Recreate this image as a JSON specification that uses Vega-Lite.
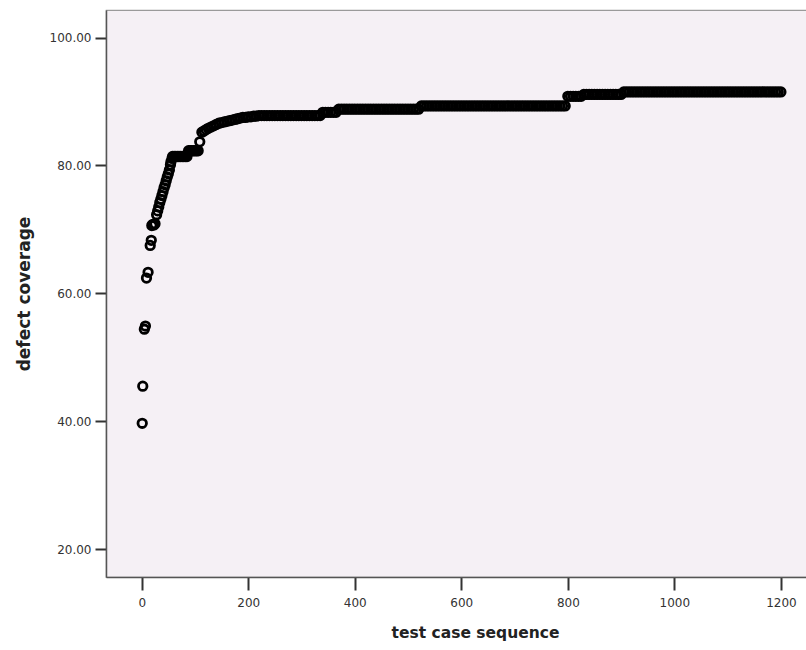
{
  "$schema": "https://vega.github.io/schema/vega-lite/v6.json",
  "width": 701,
  "height": 567,
  "autosize": "none",
  "padding": {"left": 106, "top": 10, "right": 0, "bottom": 73},
  "background": "white",
  "config": {
    "view": {"fill": "#F5F0F5", "stroke": "#9a9a9a", "strokeWidth": 1.2}
  },
  "data": {"values": [
    {"seq":1,"cov":39.7},{"seq":2,"cov":45.5},{"seq":5,"cov":54.4},{"seq":7,"cov":54.9},{"seq":9,"cov":62.4},{"seq":12,"cov":63.3},{"seq":16,"cov":67.5},{"seq":18,"cov":68.3},{"seq":19,"cov":70.6},{"seq":21,"cov":70.8},{"seq":23,"cov":70.7},{"seq":25,"cov":70.9},{"seq":28,"cov":72.3},{"seq":30,"cov":72.9},{"seq":32,"cov":73.5},{"seq":34,"cov":74.2},{"seq":36,"cov":74.7},{"seq":38,"cov":75.3},{"seq":40,"cov":75.9},{"seq":42,"cov":76.5},{"seq":44,"cov":77.0},{"seq":46,"cov":77.6},{"seq":48,"cov":78.2},{"seq":50,"cov":78.7},{"seq":52,"cov":79.3},{"seq":54,"cov":80.1},{"seq":55,"cov":80.6},{"seq":57,"cov":81.1},
    {"seq":58,"cov":81.4},{"seq":61,"cov":81.4},{"seq":64,"cov":81.4},{"seq":67,"cov":81.4},{"seq":70,"cov":81.4},{"seq":73,"cov":81.4},{"seq":76,"cov":81.4},{"seq":79,"cov":81.4},{"seq":82,"cov":81.4},{"seq":85,"cov":81.4},
    {"seq":88,"cov":82.3},{"seq":91,"cov":82.3},{"seq":94,"cov":82.3},{"seq":97,"cov":82.3},{"seq":100,"cov":82.3},{"seq":103,"cov":82.3},{"seq":106,"cov":82.3},
    {"seq":109,"cov":83.7},
    {"seq":113,"cov":85.2},{"seq":117,"cov":85.4},{"seq":121,"cov":85.6},{"seq":125,"cov":85.8},{"seq":130,"cov":86.0},{"seq":135,"cov":86.2},{"seq":140,"cov":86.4},{"seq":145,"cov":86.6},{"seq":150,"cov":86.7},{"seq":155,"cov":86.8},{"seq":160,"cov":86.9},{"seq":165,"cov":87.0},{"seq":170,"cov":87.1},{"seq":175,"cov":87.2},{"seq":180,"cov":87.3},{"seq":185,"cov":87.4},{"seq":190,"cov":87.5},{"seq":195,"cov":87.5},{"seq":200,"cov":87.6},{"seq":205,"cov":87.6},{"seq":210,"cov":87.7},{"seq":215,"cov":87.7},
    {"seq":220,"cov":87.8},{"seq":225,"cov":87.8},{"seq":230,"cov":87.8},{"seq":235,"cov":87.8},{"seq":240,"cov":87.8},{"seq":245,"cov":87.8},{"seq":250,"cov":87.8},{"seq":255,"cov":87.8},{"seq":260,"cov":87.8},{"seq":265,"cov":87.8},{"seq":270,"cov":87.8},{"seq":275,"cov":87.8},{"seq":280,"cov":87.8},{"seq":285,"cov":87.8},{"seq":290,"cov":87.8},{"seq":295,"cov":87.8},{"seq":300,"cov":87.8},{"seq":305,"cov":87.8},{"seq":310,"cov":87.8},{"seq":315,"cov":87.8},{"seq":320,"cov":87.8},{"seq":325,"cov":87.8},{"seq":330,"cov":87.8},{"seq":335,"cov":87.8},
    {"seq":340,"cov":88.3},{"seq":345,"cov":88.3},{"seq":350,"cov":88.3},{"seq":355,"cov":88.3},{"seq":360,"cov":88.3},{"seq":365,"cov":88.3},
    {"seq":370,"cov":88.8},{"seq":375,"cov":88.8},{"seq":380,"cov":88.8},{"seq":385,"cov":88.8},{"seq":390,"cov":88.8},{"seq":395,"cov":88.8},{"seq":400,"cov":88.8},{"seq":405,"cov":88.8},{"seq":410,"cov":88.8},{"seq":415,"cov":88.8},{"seq":420,"cov":88.8},{"seq":425,"cov":88.8},{"seq":430,"cov":88.8},{"seq":435,"cov":88.8},{"seq":440,"cov":88.8},{"seq":445,"cov":88.8},{"seq":450,"cov":88.8},{"seq":455,"cov":88.8},{"seq":460,"cov":88.8},{"seq":465,"cov":88.8},{"seq":470,"cov":88.8},{"seq":475,"cov":88.8},{"seq":480,"cov":88.8},{"seq":485,"cov":88.8},{"seq":490,"cov":88.8},{"seq":495,"cov":88.8},{"seq":500,"cov":88.8},{"seq":505,"cov":88.8},{"seq":510,"cov":88.8},{"seq":515,"cov":88.8},{"seq":520,"cov":88.8},
    {"seq":525,"cov":89.3},{"seq":530,"cov":89.3},{"seq":535,"cov":89.3},{"seq":540,"cov":89.3},{"seq":545,"cov":89.3},{"seq":550,"cov":89.3},{"seq":555,"cov":89.3},{"seq":560,"cov":89.3},{"seq":565,"cov":89.3},{"seq":570,"cov":89.3},{"seq":575,"cov":89.3},{"seq":580,"cov":89.3},{"seq":585,"cov":89.3},{"seq":590,"cov":89.3},{"seq":595,"cov":89.3},{"seq":600,"cov":89.3},{"seq":605,"cov":89.3},{"seq":610,"cov":89.3},{"seq":615,"cov":89.3},{"seq":620,"cov":89.3},{"seq":625,"cov":89.3},{"seq":630,"cov":89.3},{"seq":635,"cov":89.3},{"seq":640,"cov":89.3},{"seq":645,"cov":89.3},{"seq":650,"cov":89.3},{"seq":655,"cov":89.3},{"seq":660,"cov":89.3},{"seq":665,"cov":89.3},{"seq":670,"cov":89.3},{"seq":675,"cov":89.3},{"seq":680,"cov":89.3},{"seq":685,"cov":89.3},{"seq":690,"cov":89.3},{"seq":695,"cov":89.3},{"seq":700,"cov":89.3},{"seq":705,"cov":89.3},{"seq":710,"cov":89.3},{"seq":715,"cov":89.3},{"seq":720,"cov":89.3},{"seq":725,"cov":89.3},{"seq":730,"cov":89.3},{"seq":735,"cov":89.3},{"seq":740,"cov":89.3},{"seq":745,"cov":89.3},{"seq":750,"cov":89.3},{"seq":755,"cov":89.3},{"seq":760,"cov":89.3},{"seq":765,"cov":89.3},{"seq":770,"cov":89.3},{"seq":775,"cov":89.3},{"seq":780,"cov":89.3},{"seq":785,"cov":89.3},{"seq":790,"cov":89.3},{"seq":795,"cov":89.3},
    {"seq":800,"cov":90.8},{"seq":805,"cov":90.8},{"seq":810,"cov":90.8},{"seq":815,"cov":90.8},{"seq":820,"cov":90.8},{"seq":825,"cov":90.8},
    {"seq":830,"cov":91.1},{"seq":835,"cov":91.1},{"seq":840,"cov":91.1},{"seq":845,"cov":91.1},{"seq":850,"cov":91.1},{"seq":855,"cov":91.1},{"seq":860,"cov":91.1},{"seq":865,"cov":91.1},{"seq":870,"cov":91.1},{"seq":875,"cov":91.1},{"seq":880,"cov":91.1},{"seq":885,"cov":91.1},{"seq":890,"cov":91.1},{"seq":895,"cov":91.1},{"seq":900,"cov":91.1},
    {"seq":905,"cov":91.5},{"seq":910,"cov":91.5},{"seq":915,"cov":91.5},{"seq":920,"cov":91.5},{"seq":925,"cov":91.5},{"seq":930,"cov":91.5},{"seq":935,"cov":91.5},{"seq":940,"cov":91.5},{"seq":945,"cov":91.5},{"seq":950,"cov":91.5},{"seq":955,"cov":91.5},{"seq":960,"cov":91.5},{"seq":965,"cov":91.5},{"seq":970,"cov":91.5},{"seq":975,"cov":91.5},{"seq":980,"cov":91.5},{"seq":985,"cov":91.5},{"seq":990,"cov":91.5},{"seq":995,"cov":91.5},{"seq":1000,"cov":91.5},{"seq":1005,"cov":91.5},{"seq":1010,"cov":91.5},{"seq":1015,"cov":91.5},{"seq":1020,"cov":91.5},{"seq":1025,"cov":91.5},{"seq":1030,"cov":91.5},{"seq":1035,"cov":91.5},{"seq":1040,"cov":91.5},{"seq":1045,"cov":91.5},{"seq":1050,"cov":91.5},{"seq":1055,"cov":91.5},{"seq":1060,"cov":91.5},{"seq":1065,"cov":91.5},{"seq":1070,"cov":91.5},{"seq":1075,"cov":91.5},{"seq":1080,"cov":91.5},{"seq":1085,"cov":91.5},{"seq":1090,"cov":91.5},{"seq":1095,"cov":91.5},{"seq":1100,"cov":91.5},{"seq":1105,"cov":91.5},{"seq":1110,"cov":91.5},{"seq":1115,"cov":91.5},{"seq":1120,"cov":91.5},{"seq":1125,"cov":91.5},{"seq":1130,"cov":91.5},{"seq":1135,"cov":91.5},{"seq":1140,"cov":91.5},{"seq":1145,"cov":91.5},{"seq":1150,"cov":91.5},{"seq":1155,"cov":91.5},{"seq":1160,"cov":91.5},{"seq":1165,"cov":91.5},{"seq":1170,"cov":91.5},{"seq":1175,"cov":91.5},{"seq":1180,"cov":91.5},{"seq":1185,"cov":91.5},{"seq":1190,"cov":91.5},{"seq":1195,"cov":91.5},{"seq":1200,"cov":91.5}
  ]},
  "mark": {"type": "point", "shape": "circle", "filled": false, "stroke": "black", "strokeWidth": 2.8, "size": 72, "opacity": 1},
  "encoding": {
    "x": {
      "field": "seq", "type": "quantitative",
      "scale": {"domain": [-67, 1249], "nice": false, "zero": false},
      "axis": {
        "title": "test case sequence", "values": [0, 200, 400, 600, 800, 1000, 1200], "format": "d",
        "grid": false, "domainColor": "#555", "domainWidth": 1.5,
        "tickColor": "#333", "tickWidth": 2, "tickSize": 13,
        "labelFont": "DejaVu Sans", "labelFontSize": 12, "labelColor": "#333", "labelPadding": 7,
        "titleFont": "DejaVu Sans", "titleFontSize": 15.5, "titleFontWeight": "bold", "titleColor": "#222", "titlePadding": 17, "titleX": 369
      }
    },
    "y": {
      "field": "cov", "type": "quantitative",
      "scale": {"domain": [15.67, 104.3], "nice": false, "zero": false},
      "axis": {
        "title": "defect coverage", "values": [20, 40, 60, 80, 100], "format": ".2f",
        "grid": false, "domainColor": "#555", "domainWidth": 1.5,
        "tickColor": "#333", "tickWidth": 2, "tickSize": 11,
        "labelFont": "DejaVu Sans", "labelFontSize": 12, "labelColor": "#333", "labelPadding": 4,
        "titleFont": "DejaVu Sans", "titleFontSize": 17, "titleFontWeight": "bold", "titleColor": "#222", "titlePadding": 16
      }
    }
  }
}
